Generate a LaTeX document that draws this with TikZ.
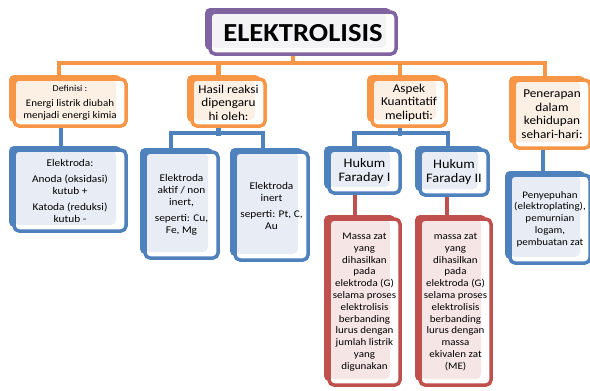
\documentclass[tikz,border=0pt]{standalone}
\usepackage{fontspec}
\setmainfont{Carlito}[FakeStretch=1.1]
\usetikzlibrary{shadows,backgrounds}
\definecolor{oranye}{HTML}{F79646}
\definecolor{oranyemuda}{HTML}{FCEFE4}
\definecolor{biru}{HTML}{4F81BD}
\definecolor{birumuda}{HTML}{E8EDF5}
\definecolor{merah}{HTML}{C0504D}
\definecolor{merahmuda}{HTML}{F6E5E5}
\definecolor{ungu}{HTML}{8064A2}
\definecolor{ungumuda}{HTML}{F3F3F5}
\tikzset{
  kotak/.style 2 args={draw=#1, fill=white, line width=3.5pt, rounded corners=5pt,
    align=center, inner sep=0pt, text=black,
    general shadow={fill=#1, shadow xshift=-5pt, shadow yshift=4pt},
    path picture={\fill[#2] (path picture bounding box.north west) rectangle
      ([xshift=-10pt,yshift=6pt]path picture bounding box.south east);}},
  hubung/.style={draw=#1, line width=4.5pt},
  fbesar/.style={font=\fontsize{12}{13.5}\selectfont},
  fhukum/.style={font=\fontsize{13}{14}\selectfont},
  fsedang/.style={font=\fontsize{10.3}{12}\selectfont},
  fkecil/.style={font=\fontsize{10}{11.8}\selectfont},
}
\begin{document}
\begin{tikzpicture}[x=1pt,y=-1pt]
  \useasboundingbox (0,0) rectangle (590,391);
  \node[kotak={ungu}{ungumuda}, minimum width=186pt, minimum height=42pt,
    font=\fontsize{26}{30}\selectfont\bfseries] (judul) at (303,33) {ELEKTROLISIS};
  \node[kotak={oranye}{oranyemuda}, minimum width=112pt, minimum height=47pt, fkecil] (def) at (70,102.5)
    {{\fontsize{9}{11}\selectfont Definisi :}\\[3pt] Energi listrik diubah\\ menjadi energi kimia};
  \node[kotak={oranye}{oranyemuda}, minimum width=73pt, minimum height=47pt, fbesar] (hasil) at (228.5,102.5)
    {Hasil reaksi\\ dipengaru\\ hi oleh:};
  \node[kotak={oranye}{oranyemuda}, minimum width=74pt, minimum height=47pt, fbesar] (aspek) at (409,102.5)
    {Aspek\\ Kuantitatif\\ meliputi:};
  \node[kotak={oranye}{oranyemuda}, minimum width=76pt, minimum height=68pt, fbesar] (terap) at (552,114)
    {Penerapan\\ dalam\\ kehidupan\\ sehari-hari:};
  \node[kotak={biru}{birumuda}, minimum width=112pt, minimum height=81pt, fsedang] (elek) at (70,190.5)
    {Elektroda:\\[4pt] Anoda (oksidasi)\\ kutub +\\[4pt] Katoda (reduksi)\\ kutub -};
  \node[kotak={biru}{birumuda}, minimum width=73pt, minimum height=106pt, fsedang] (aktif) at (181.5,205)
    {Elektroda\\ aktif / non\\ inert,\\[4pt] seperti: Cu,\\ Fe, Mg};
  \node[kotak={biru}{birumuda}, minimum width=73pt, minimum height=108pt, fsedang] (inert) at (271.5,206)
    {Elektroda\\ inert\\[4pt] seperti: Pt, C,\\ Au};
  \node[kotak={biru}{birumuda}, minimum width=71pt, minimum height=43pt, fhukum] (fara1) at (364.5,171.5)
    {Hukum\\ Faraday I};
  \node[kotak={biru}{birumuda}, minimum width=68pt, minimum height=45pt, fhukum] (fara2) at (454,172.5)
    {Hukum\\ Faraday II};
  \node[kotak={biru}{birumuda}, minimum width=80pt, minimum height=88pt, fkecil] (guna) at (550,219)
    {Penyepuhan\\ (elektroplating),\\ pemurnian\\ logam,\\ pembuatan zat};
  \node[kotak={merah}{merahmuda}, minimum width=71pt, minimum height=166pt, fkecil] (massa1) at (364.5,302)
    {Massa zat\\ yang\\ dihasilkan\\ pada\\ elektroda (G)\\ selama proses\\ elektrolisis\\ berbanding\\ lurus dengan\\ jumlah listrik\\ yang\\ digunakan};
  \node[kotak={merah}{merahmuda}, minimum width=71pt, minimum height=166pt, fkecil] (massa2) at (455.5,302)
    {massa zat\\ yang\\ dihasilkan\\ pada\\ elektroda (G)\\ selama proses\\ elektrolisis\\ berbanding\\ lurus dengan\\ massa\\ ekivalen zat\\ (ME)};
  \begin{scope}[on background layer]
    \draw[hubung=oranye] ([xshift=-10pt]judul.south) -- ++(0,8.5);
    \draw[hubung=oranye] ([xshift=-11pt]def.north) -- ++(0,-14.5) -| ([xshift=-7pt]terap.north);
    \draw[hubung=oranye] ([xshift=-10pt]hasil.north) -- ++(0,-14.5);
    \draw[hubung=oranye] ([xshift=-9pt]aspek.north) -- ++(0,-14.5);
    \draw[hubung=biru] ([xshift=-9pt]def.south) -- ([xshift=-9pt]elek.north);
    \draw[hubung=biru] ([xshift=-10pt]hasil.south) -- ++(0,8.5);
    \draw[hubung=biru] ([xshift=-10.5pt]aktif.north) -- ++(0,-17.5) -| ([xshift=-8.5pt]inert.north);
    \draw[hubung=biru] ([xshift=-9pt]aspek.south) -- ++(0,8.5);
    \draw[hubung=biru] ([xshift=-10pt]fara1.north) -- ++(0,-15.5) -| ([xshift=-6pt]fara2.north);
    \draw[hubung=biru] ([xshift=-9pt]terap.south) -- ([xshift=-7pt]guna.north);
    \draw[hubung=merah] ([xshift=-9.5pt]fara1.south) -- ([xshift=-9.5pt]massa1.north);
    \draw[hubung=merah] ([xshift=-7pt]fara2.south) -- ([xshift=-7pt]fara2.south |- massa2.north);
  \end{scope}
\end{tikzpicture}
\end{document}
